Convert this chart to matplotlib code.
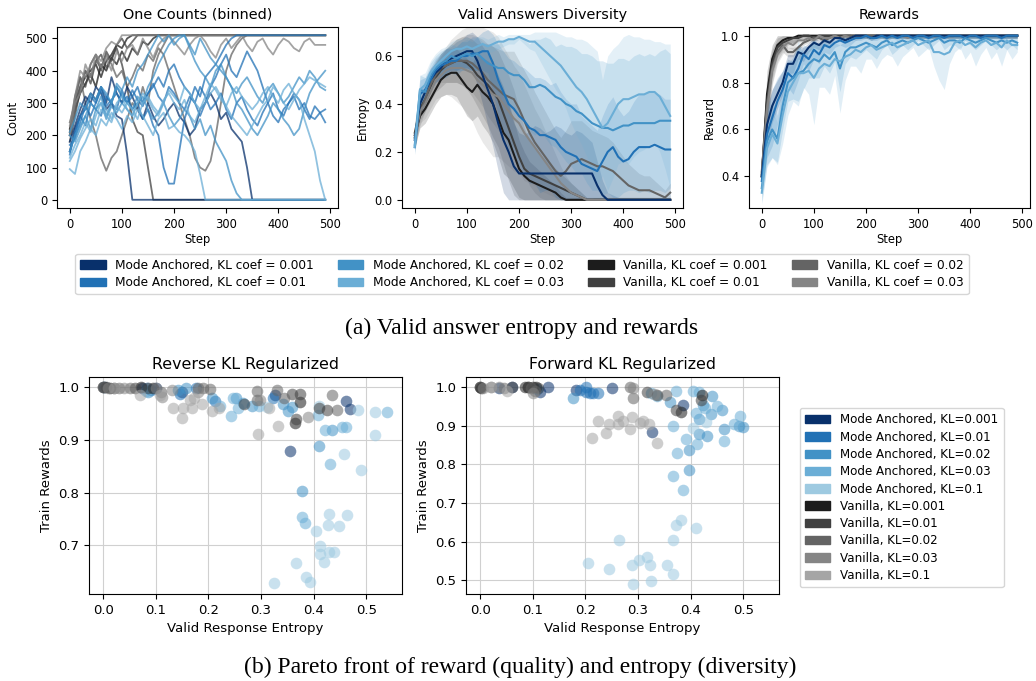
import numpy as np
import matplotlib
matplotlib.use("Agg")
import matplotlib.pyplot as plt
from matplotlib.patches import Patch

# ---------------- data ----------------
steps = list(range(0, 500, 10))

# colours per configuration
col_ma = {"0.001": "#08306b", "0.01": "#2171b5", "0.02": "#4292c6", "0.03": "#6baed6", "0.1": "#9ecae1"}
col_v = {"0.001": "#1c1c1c", "0.01": "#404040", "0.02": "#646464", "0.03": "#858585", "0.1": "#a5a5a5"}

# ---- One Counts (binned): individual runs ----
p1_ma0001_a = [180,230,280,320,300,350,330,280,300,260,
               250,140,0,0,0,0,0,0,0,0,
               0,0,0,0,0,0,0,0,0,0,
               0,0,0,0,0,0,0,0,0,0,
               0,0,0,0,0,0,0,0,0,0]
p1_ma0001_b = [150,220,260,300,330,310,350,300,380,330,
               300,350,320,280,250,300,260,230,250,280,
               300,260,240,200,220,280,300,330,300,250,
               270,220,200,180,100,0,0,0,0,0,
               0,0,0,0,0,0,0,0,0,0]
p1_ma001_a = [140,210,260,280,320,300,340,290,310,330,
              300,320,280,300,250,280,230,200,100,50,
              50,150,250,300,350,320,380,400,420,450,
              480,500,510,510,510,510,510,510,510,510,
              510,510,510,510,510,510,510,510,510,510]
p1_ma001_b = [170,190,240,290,260,300,350,320,300,280,
              340,300,320,350,300,330,360,320,300,350,
              330,300,280,320,300,260,300,350,380,420,
              450,400,380,420,460,430,400,350,300,330,
              280,260,300,320,280,300,260,250,270,280]
p1_ma001_c = [150,200,260,230,300,280,260,320,300,350,
              320,300,340,310,290,330,350,380,350,400,
              420,380,350,330,300,350,320,280,300,330,
              280,250,300,320,280,250,230,270,300,260,
              240,280,300,330,310,280,250,290,270,240]
p1_ma002_a = [200,180,220,260,300,280,320,260,300,350,
              330,300,280,320,300,350,380,420,450,480,
              500,510,510,480,450,500,470,440,420,400,
              380,350,300,280,250,220,200,230,260,300,
              280,250,230,200,220,280,330,360,380,400]
p1_ma002_b = [150,200,230,260,220,280,300,250,290,270,
              300,280,260,300,320,280,250,270,300,260,
              230,250,280,260,220,250,200,230,180,150,
              120,60,20,0,0,0,0,0,0,0,
              0,0,0,0,0,0,0,0,0,0]
p1_ma002_c = [210,250,300,280,330,310,350,330,300,360,
              340,380,350,400,420,450,480,510,490,510,
              480,500,510,470,430,400,380,350,400,420,
              380,350,330,360,380,350,320,300,340,360,
              330,300,320,350,380,360,400,380,350,340]
p1_ma003_a = [95,80,150,180,220,200,250,230,270,250,
              220,260,240,280,260,230,200,250,270,220,
              230,210,200,180,150,80,0,0,0,0,
              0,0,0,0,0,0,0,0,0,0,
              0,0,0,0,0,0,0,0,0,0]
p1_ma003_b = [130,170,200,240,210,260,300,280,250,300,
              320,280,260,300,330,310,280,260,300,340,
              320,300,350,330,300,280,320,360,340,310,
              290,330,350,320,300,280,300,330,350,320,
              300,340,360,330,310,250,200,150,60,0]
p1_ma003_c = [120,150,190,220,250,230,280,260,240,290,
              270,300,280,250,300,320,290,270,310,330,
              300,280,310,260,240,280,300,330,350,320,
              290,260,240,220,200,230,260,290,310,350,
              330,300,280,310,340,360,380,370,360,350]
p1_v0001_a = [200,300,350,380,400,420,380,430,450,480,
              470,500,510,510,510,510,510,510,510,510,
              510,510,510,510,510,510,510,510,510,510,
              510,510,510,510,510,510,510,510,510,510,
              510,510,510,510,510,510,510,510,510,510]
p1_v0001_b = [220,280,330,360,390,350,420,400,440,420,
              460,430,470,450,490,480,500,510,510,510,
              510,510,510,510,510,510,510,510,510,510,
              510,510,510,510,510,510,510,510,510,510,
              510,510,510,510,510,510,510,510,510,510]
p1_v001_a = [180,260,340,400,360,430,450,410,440,470,
             420,350,250,210,200,100,0,0,0,0,
             0,0,0,0,0,0,0,0,0,0,
             0,0,0,0,0,0,0,0,0,0,
             0,0,0,0,0,0,0,0,0,0]
p1_v001_b = [210,320,380,350,420,450,400,460,430,480,
             500,470,490,510,510,510,510,510,510,510,
             510,510,510,510,510,510,510,510,510,510,
             510,510,510,510,510,510,510,510,510,510,
             510,510,510,510,510,510,510,510,510,510]
p1_v002_a = [240,300,380,300,250,200,130,90,130,150,
             200,250,300,280,350,300,400,450,480,510,
             510,510,510,510,510,510,510,510,510,510,
             510,510,510,510,510,510,510,510,510,510,
             510,510,510,510,510,510,510,510,510,510]
p1_v002_b = [200,280,350,400,380,430,410,450,420,380,
             400,350,380,420,400,450,430,470,450,400,
             350,300,250,200,130,100,90,120,200,300,
             400,450,480,500,510,510,510,510,510,510,
             510,510,510,510,510,510,510,510,510,510]
p1_v003_a = [230,320,400,380,420,450,430,470,490,480,
             510,510,510,510,510,510,510,510,510,510,
             510,510,510,510,510,510,510,510,510,510,
             510,510,510,510,510,510,510,510,510,510,
             510,510,510,510,510,510,510,510,510,510]
p1_v003_b = [200,300,330,420,380,450,410,440,400,460,
             430,470,480,450,500,470,440,480,500,510,
             490,470,450,480,500,510,490,460,440,480,
             500,470,490,510,480,460,490,500,470,450,
             480,500,490,470,460,490,500,480,480,480]

# ---- Valid Answers Diversity: mean entropy and spread ----
e_ma0001 = [0.25,0.40,0.45,0.50,0.53,0.55,0.58,0.59,0.60,0.61,
            0.62,0.62,0.58,0.52,0.46,0.40,0.32,0.25,0.20,0.14,
            0.11,0.11,0.11,0.11,0.11,0.11,0.11,0.11,0.11,0.11,
            0.11,0.11,0.11,0.11,0.11,0.06,0.02,0.00,0.00,0.00,
            0.00,0.00,0.00,0.00,0.00,0.00,0.00,0.00,0.00,0.00]
e_ma001 = [0.22,0.44,0.46,0.50,0.54,0.56,0.57,0.58,0.58,0.60,
           0.60,0.61,0.61,0.62,0.62,0.57,0.50,0.45,0.40,0.38,
           0.35,0.33,0.30,0.29,0.27,0.27,0.26,0.25,0.22,0.20,
           0.19,0.18,0.15,0.14,0.13,0.12,0.16,0.20,0.22,0.18,
           0.16,0.17,0.20,0.22,0.22,0.22,0.23,0.22,0.21,0.21]
e_ma002 = [0.23,0.46,0.45,0.52,0.55,0.57,0.58,0.60,0.59,0.60,
           0.61,0.60,0.61,0.59,0.57,0.56,0.55,0.55,0.53,0.52,
           0.52,0.50,0.47,0.47,0.48,0.47,0.45,0.43,0.42,0.40,
           0.39,0.37,0.36,0.34,0.32,0.31,0.30,0.30,0.29,0.30,
           0.31,0.31,0.32,0.32,0.32,0.32,0.32,0.33,0.33,0.33]
e_ma003 = [0.22,0.46,0.48,0.53,0.56,0.58,0.60,0.62,0.63,0.63,
           0.64,0.63,0.64,0.65,0.64,0.65,0.66,0.66,0.67,0.67,
           0.68,0.67,0.66,0.66,0.64,0.62,0.60,0.58,0.56,0.53,
           0.50,0.47,0.45,0.42,0.38,0.34,0.30,0.32,0.36,0.40,
           0.42,0.42,0.43,0.44,0.44,0.45,0.45,0.43,0.39,0.35]
e_v0001 = [0.27,0.35,0.38,0.42,0.46,0.50,0.52,0.53,0.53,0.50,
           0.47,0.45,0.48,0.45,0.43,0.40,0.34,0.28,0.25,0.19,
           0.13,0.10,0.08,0.07,0.06,0.05,0.04,0.03,0.01,0.00,
           0.00,0.00,0.00,0.00,0.00,0.00,0.00,0.00,0.00,0.00,
           0.00,0.00,0.00,0.00,0.00,0.00,0.00,0.00,0.00,0.00]
e_v001 = [0.28,0.38,0.42,0.47,0.51,0.54,0.56,0.57,0.58,0.58,
          0.57,0.55,0.52,0.50,0.48,0.45,0.42,0.36,0.30,0.24,
          0.18,0.13,0.11,0.10,0.09,0.08,0.07,0.06,0.05,0.04,
          0.03,0.02,0.01,0.00,0.00,0.00,0.00,0.00,0.00,0.00,
          0.00,0.00,0.00,0.00,0.00,0.00,0.00,0.00,0.00,0.00]
e_v002 = [0.26,0.36,0.42,0.48,0.52,0.55,0.56,0.57,0.58,0.58,
          0.58,0.57,0.55,0.53,0.50,0.48,0.46,0.44,0.43,0.42,
          0.38,0.33,0.28,0.24,0.21,0.18,0.15,0.12,0.10,0.12,
          0.15,0.16,0.17,0.16,0.15,0.14,0.14,0.13,0.12,0.10,
          0.08,0.06,0.05,0.04,0.04,0.04,0.03,0.02,0.01,0.03]
e_v003 = [0.26,0.37,0.40,0.45,0.50,0.52,0.54,0.55,0.55,0.55,
          0.54,0.53,0.50,0.48,0.46,0.44,0.43,0.40,0.37,0.34,
          0.32,0.28,0.25,0.22,0.19,0.16,0.13,0.10,0.07,0.05,
          0.03,0.02,0.01,0.00,0.00,0.00,0.00,0.00,0.00,0.00,
          0.00,0.00,0.00,0.00,0.00,0.00,0.00,0.00,0.00,0.00]

sp_e_ma0001 = [0.03,0.05,0.05,0.05,0.04,0.05,0.05,0.05,0.06,0.06,
               0.07,0.08,0.10,0.12,0.15,0.18,0.20,0.22,0.20,0.18,
               0.17,0.16,0.18,0.20,0.19,0.17,0.18,0.20,0.19,0.17,
               0.16,0.18,0.17,0.15,0.13,0.10,0.06,0.03,0.02,0.01,
               0.01,0.01,0.01,0.01,0.01,0.01,0.01,0.01,0.01,0.01]
sp_e_ma001 = [0.03,0.06,0.05,0.05,0.05,0.05,0.06,0.05,0.06,0.06,
              0.06,0.07,0.07,0.08,0.09,0.12,0.15,0.17,0.19,0.20,
              0.21,0.22,0.23,0.22,0.24,0.23,0.22,0.24,0.23,0.22,
              0.21,0.22,0.20,0.19,0.18,0.17,0.19,0.20,0.21,0.20,
              0.19,0.20,0.21,0.22,0.22,0.23,0.22,0.22,0.21,0.21]
sp_e_ma002 = [0.03,0.06,0.06,0.05,0.05,0.05,0.05,0.05,0.05,0.06,
              0.06,0.06,0.07,0.07,0.08,0.09,0.10,0.12,0.14,0.15,
              0.16,0.17,0.18,0.20,0.19,0.21,0.22,0.21,0.23,0.24,
              0.25,0.26,0.25,0.27,0.28,0.27,0.28,0.27,0.28,0.29,
              0.28,0.27,0.28,0.29,0.28,0.29,0.28,0.29,0.30,0.28]
sp_e_ma003 = [0.03,0.06,0.05,0.05,0.05,0.05,0.04,0.04,0.04,0.04,
              0.04,0.04,0.04,0.03,0.03,0.03,0.03,0.02,0.02,0.02,
              0.01,0.02,0.03,0.04,0.06,0.08,0.10,0.12,0.13,0.15,
              0.18,0.20,0.22,0.24,0.26,0.28,0.20,0.28,0.27,0.25,
              0.26,0.27,0.25,0.24,0.23,0.22,0.21,0.23,0.26,0.30]
sp_e_v0001 = [0.05,0.05,0.06,0.06,0.06,0.07,0.08,0.09,0.10,0.11,
              0.12,0.12,0.13,0.14,0.15,0.16,0.16,0.17,0.16,0.14,
              0.12,0.10,0.08,0.07,0.06,0.05,0.04,0.03,0.02,0.01,
              0.01,0.01,0.01,0.01,0.01,0.01,0.01,0.01,0.01,0.01,
              0.01,0.01,0.01,0.01,0.01,0.01,0.01,0.01,0.01,0.01]
sp_e_v001 = [0.05,0.05,0.05,0.06,0.06,0.07,0.07,0.08,0.09,0.10,
             0.11,0.12,0.13,0.15,0.17,0.19,0.20,0.21,0.22,0.22,
             0.20,0.17,0.14,0.12,0.10,0.09,0.08,0.07,0.06,0.05,
             0.04,0.03,0.02,0.01,0.01,0.01,0.01,0.01,0.01,0.01,
             0.01,0.01,0.01,0.01,0.01,0.01,0.01,0.01,0.01,0.01]
sp_e_v002 = [0.05,0.05,0.05,0.06,0.06,0.06,0.07,0.08,0.09,0.10,
             0.11,0.12,0.13,0.14,0.15,0.16,0.17,0.18,0.19,0.20,
             0.20,0.21,0.22,0.21,0.20,0.19,0.18,0.17,0.16,0.17,
             0.18,0.17,0.16,0.15,0.14,0.14,0.13,0.13,0.12,0.11,
             0.10,0.09,0.08,0.07,0.06,0.06,0.05,0.04,0.03,0.04]
sp_e_v003 = [0.05,0.05,0.06,0.07,0.08,0.09,0.10,0.12,0.14,0.16,
             0.18,0.20,0.22,0.24,0.25,0.26,0.25,0.24,0.23,0.22,
             0.21,0.20,0.18,0.16,0.15,0.13,0.11,0.09,0.07,0.05,
             0.04,0.03,0.02,0.01,0.01,0.01,0.01,0.01,0.01,0.01,
             0.01,0.01,0.01,0.01,0.01,0.01,0.01,0.01,0.01,0.01]

# ---- Rewards: mean reward and spread ----
r_ma0001 = [0.40,0.62,0.70,0.75,0.80,0.88,0.88,0.93,0.92,0.95,
            0.97,0.96,0.98,0.97,0.99,0.99,0.98,0.99,1.00,1.00,
            1.00,0.99,1.00,1.00,1.00,1.00,1.00,1.00,1.00,1.00,
            1.00,1.00,1.00,1.00,1.00,1.00,1.00,1.00,1.00,1.00,
            1.00,1.00,1.00,1.00,1.00,1.00,1.00,1.00,1.00,1.00]
r_ma001 = [0.38,0.58,0.65,0.72,0.77,0.84,0.82,0.86,0.92,0.90,
           0.94,0.92,0.96,0.95,0.97,0.98,0.97,0.98,0.99,0.99,
           1.00,0.99,0.99,1.00,0.99,1.00,0.99,1.00,1.00,0.99,
           1.00,1.00,0.99,1.00,1.00,0.99,1.00,1.00,1.00,0.99,
           1.00,1.00,0.99,1.00,1.00,1.00,0.99,1.00,1.00,1.00]
r_ma002 = [0.35,0.55,0.60,0.56,0.70,0.80,0.82,0.84,0.85,0.88,
           0.90,0.89,0.92,0.90,0.93,0.86,0.93,0.95,0.95,0.96,
           0.97,0.96,0.95,0.97,0.98,0.96,0.97,0.98,0.97,0.98,
           0.99,0.98,0.97,0.98,0.99,0.97,0.98,0.98,0.97,0.99,
           0.98,0.97,0.98,0.99,0.98,0.97,0.98,0.97,0.98,0.97]
r_ma003 = [0.33,0.52,0.58,0.54,0.66,0.76,0.80,0.84,0.84,0.85,
           0.82,0.86,0.88,0.87,0.90,0.89,0.91,0.92,0.94,0.93,
           0.95,0.96,0.94,0.95,0.96,0.97,0.95,0.96,0.97,0.98,
           0.96,0.97,0.98,0.93,0.93,0.92,0.93,0.97,0.98,0.96,
           0.97,0.95,0.97,0.98,0.96,0.97,0.95,0.98,0.96,0.96]
r_v0001 = [0.40,0.75,0.90,0.96,0.98,0.99,0.99,1.00,1.00,1.00,
           1.00,1.00,1.00,1.00,1.00,1.00,1.00,1.00,1.00,1.00,
           1.00,1.00,1.00,1.00,1.00,1.00,1.00,1.00,1.00,1.00,
           1.00,1.00,1.00,1.00,1.00,1.00,1.00,1.00,1.00,1.00,
           1.00,1.00,1.00,1.00,1.00,1.00,1.00,1.00,1.00,1.00]
r_v001 = [0.40,0.72,0.88,0.95,0.97,0.98,0.99,0.99,1.00,1.00,
          0.99,1.00,1.00,1.00,1.00,1.00,1.00,1.00,1.00,1.00,
          1.00,1.00,1.00,1.00,1.00,1.00,1.00,1.00,1.00,1.00,
          1.00,1.00,1.00,1.00,1.00,1.00,1.00,1.00,1.00,1.00,
          1.00,1.00,1.00,1.00,1.00,1.00,1.00,1.00,1.00,1.00]
r_v002 = [0.42,0.70,0.86,0.93,0.96,0.93,0.93,0.95,0.97,0.98,
          0.99,0.99,0.98,0.99,1.00,0.99,1.00,1.00,0.99,1.00,
          1.00,1.00,1.00,1.00,1.00,1.00,1.00,1.00,1.00,1.00,
          1.00,1.00,1.00,1.00,1.00,1.00,1.00,1.00,1.00,1.00,
          1.00,1.00,1.00,1.00,1.00,1.00,1.00,1.00,1.00,1.00]
r_v003 = [0.41,0.68,0.85,0.92,0.95,0.97,0.96,0.98,0.98,0.99,
          0.98,1.00,0.99,0.99,1.00,0.99,1.00,0.99,1.00,1.00,
          1.00,0.99,1.00,1.00,0.99,1.00,1.00,1.00,0.99,1.00,
          1.00,1.00,1.00,1.00,1.00,1.00,1.00,1.00,1.00,1.00,
          1.00,1.00,1.00,1.00,1.00,1.00,1.00,1.00,1.00,1.00]

sp_r_ma0001 = [0.05,0.08,0.07,0.06,0.05,0.04,0.04,0.03,0.03,0.02,
               0.02,0.02,0.02,0.01,0.01,0.01,0.01,0.01,0.01,0.01,
               0.01,0.01,0.01,0.01,0.01,0.01,0.01,0.01,0.01,0.01,
               0.01,0.01,0.01,0.01,0.01,0.01,0.01,0.01,0.01,0.01,
               0.01,0.01,0.01,0.01,0.01,0.01,0.01,0.01,0.01,0.01]
sp_r_ma001 = [0.06,0.10,0.12,0.10,0.08,0.06,0.07,0.05,0.04,0.05,
              0.04,0.04,0.03,0.03,0.02,0.02,0.02,0.02,0.01,0.01,
              0.01,0.01,0.01,0.01,0.01,0.01,0.01,0.01,0.01,0.01,
              0.01,0.01,0.01,0.01,0.01,0.01,0.01,0.01,0.01,0.01,
              0.01,0.01,0.01,0.01,0.01,0.01,0.01,0.01,0.01,0.01]
sp_r_ma002 = [0.06,0.10,0.12,0.10,0.10,0.08,0.09,0.12,0.08,0.06,
              0.08,0.07,0.05,0.06,0.04,0.10,0.05,0.04,0.05,0.04,
              0.03,0.04,0.05,0.03,0.02,0.04,0.03,0.02,0.03,0.02,
              0.01,0.02,0.03,0.02,0.01,0.03,0.02,0.02,0.03,0.01,
              0.02,0.03,0.02,0.01,0.02,0.03,0.02,0.03,0.02,0.03]
sp_r_ma003 = [0.05,0.08,0.10,0.09,0.12,0.10,0.08,0.14,0.06,0.10,
              0.20,0.08,0.10,0.12,0.07,0.22,0.10,0.05,0.07,0.09,
              0.05,0.06,0.08,0.05,0.04,0.06,0.08,0.05,0.04,0.03,
              0.05,0.04,0.03,0.06,0.12,0.15,0.05,0.04,0.03,0.06,
              0.04,0.08,0.05,0.03,0.06,0.04,0.08,0.04,0.06,0.03]
sp_r_v = [0.04,0.10,0.06,0.04,0.03,0.02,0.02,0.01,0.01,0.01,
          0.01,0.01,0.01,0.01,0.01,0.01,0.01,0.01,0.01,0.01,
          0.01,0.01,0.01,0.01,0.01,0.01,0.01,0.01,0.01,0.01,
          0.01,0.01,0.01,0.01,0.01,0.01,0.01,0.01,0.01,0.01,
          0.01,0.01,0.01,0.01,0.01,0.01,0.01,0.01,0.01,0.01]

# ---- Pareto scatter: Reverse KL ----
rev_ma0001_x = [0.073, 0.101, 0.356, 0.461, 0.470, 0.150, 0.326]
rev_ma0001_y = [0.998, 0.999, 0.879, 0.974, 0.959, 0.990, 0.985]
rev_ma001_x = [0.084, 0.146, 0.177, 0.212, 0.323, 0.002, 0.090]
rev_ma001_y = [0.999, 0.987, 0.998, 0.973, 0.979, 1.000, 0.995]
rev_ma002_x = [0.142, 0.158, 0.207, 0.266, 0.253, 0.282, 0.342, 0.358, 0.351, 0.378, 0.410, 0.435, 0.085]
rev_ma002_y = [0.995, 0.998, 0.979, 0.970, 0.979, 0.965, 0.967, 0.963, 0.954, 0.803, 0.889, 0.918, 0.990]
rev_ma003_x = [0.082, 0.222, 0.246, 0.256, 0.242, 0.297, 0.409, 0.421, 0.454, 0.462, 0.432, 0.378, 0.384, 0.539]
rev_ma003_y = [0.992, 0.964, 0.979, 0.960, 0.946, 0.964, 0.947, 0.918, 0.924, 0.924, 0.855, 0.754, 0.743, 0.952]
rev_ma01_x = [0.325, 0.367, 0.386, 0.394, 0.404, 0.413, 0.413, 0.420, 0.430, 0.438, 0.428, 0.430,
              0.449, 0.464, 0.516, 0.491, 0.457, 0.517, 0.484, 0.410, 0.312]
rev_ma01_y = [0.629, 0.667, 0.641, 0.630, 0.728, 0.698, 0.684, 0.668, 0.688, 0.688, 0.738, 0.759,
              0.737, 0.757, 0.909, 0.842, 0.874, 0.952, 0.956, 0.964, 0.962]
rev_v0001_x = [0.000, 0.005, 0.012, 0.072, 0.095, 0.365, 0.375]
rev_v0001_y = [1.000, 1.000, 0.999, 1.000, 0.999, 0.932, 0.972]
rev_v001_x = [0.002, 0.020, 0.060, 0.085, 0.268, 0.359, 0.367, 0.411, 0.426, 0.375]
rev_v001_y = [1.000, 0.998, 0.999, 0.998, 0.968, 0.987, 0.940, 0.960, 0.957, 0.987]
rev_v002_x = [0.000, 0.030, 0.050, 0.110, 0.180, 0.190, 0.203, 0.293, 0.330, 0.344, 0.444, 0.435, 0.293]
rev_v002_y = [1.000, 0.999, 0.998, 0.990, 0.998, 0.998, 0.996, 0.992, 0.995, 0.979, 0.957, 0.984, 0.976]
rev_v003_x = [0.010, 0.040, 0.100, 0.111, 0.130, 0.389, 0.298, 0.180]
rev_v003_y = [0.999, 0.998, 0.999, 0.982, 0.995, 0.943, 0.975, 0.990]
rev_v01_x = [0.070, 0.108, 0.133, 0.149, 0.152, 0.165, 0.168, 0.173, 0.187, 0.206, 0.294, 0.332, 0.316, 0.020, 0.220]
rev_v01_y = [0.985, 0.985, 0.960, 0.941, 0.960, 0.976, 0.960, 0.979, 0.967, 0.954, 0.911, 0.926, 0.960, 0.998, 0.960]

# ---- Pareto scatter: Forward KL ----
fwd_ma0001_x = [0.035, 0.113, 0.129, 0.183, 0.251, 0.327, 0.386, 0.060]
fwd_ma0001_y = [0.997, 0.986, 1.000, 0.993, 0.997, 0.884, 0.952, 1.000]
fwd_ma001_x = [0.189, 0.202, 0.208, 0.224, 0.202, 0.215, 0.108]
fwd_ma001_y = [0.991, 0.987, 0.984, 0.983, 1.000, 0.985, 0.995]
fwd_ma002_x = [0.177, 0.361, 0.397, 0.397, 0.416, 0.432, 0.463, 0.492, 0.500, 0.416, 0.439, 0.460, 0.440, 0.423]
fwd_ma002_y = [0.970, 0.960, 0.786, 0.838, 0.877, 0.872, 0.890, 0.898, 0.896, 0.916, 0.930, 0.941, 0.976, 0.953]
fwd_ma003_x = [0.366, 0.367, 0.372, 0.375, 0.391, 0.410, 0.413, 0.427, 0.451, 0.463, 0.482, 0.494,
               0.337, 0.325, 0.404, 0.385, 0.415]
fwd_ma003_y = [0.769, 0.898, 0.989, 0.829, 0.864, 0.933, 0.851, 0.946, 0.950, 0.859, 0.903, 0.924,
               0.976, 0.984, 0.989, 0.733, 0.986]
fwd_ma01_x = [0.204, 0.245, 0.263, 0.289, 0.290, 0.301, 0.317, 0.323, 0.325, 0.356, 0.366, 0.366,
              0.372, 0.381, 0.411, 0.405, 0.430]
fwd_ma01_y = [0.545, 0.530, 0.605, 0.540, 0.490, 0.553, 0.560, 0.539, 0.497, 0.539, 0.603, 0.516,
              0.644, 0.657, 0.635, 0.894, 0.910]
fwd_v0001_x = [0.000, 0.002, 0.085, 0.091, 0.107, 0.100, 0.381, 0.421]
fwd_v0001_y = [1.000, 0.998, 1.000, 1.000, 1.000, 0.999, 0.934, 0.980]
fwd_v001_x = [0.000, 0.060, 0.090, 0.110, 0.317, 0.337, 0.372, 0.419]
fwd_v001_y = [1.000, 1.000, 0.999, 0.998, 0.986, 0.980, 0.941, 0.967]
fwd_v002_x = [0.021, 0.046, 0.096, 0.284, 0.290, 0.353, 0.105]
fwd_v002_y = [1.000, 0.997, 0.997, 1.000, 0.970, 0.978, 0.990]
fwd_v003_x = [0.005, 0.035, 0.100, 0.290, 0.330]
fwd_v003_y = [0.998, 0.999, 0.985, 0.998, 0.982]
fwd_v01_x = [0.213, 0.224, 0.240, 0.245, 0.262, 0.262, 0.271, 0.284, 0.289, 0.303, 0.309, 0.320, 0.337, 0.020, 0.050]
fwd_v01_y = [0.868, 0.911, 0.881, 0.903, 0.924, 0.903, 0.913, 0.890, 0.922, 0.907, 0.911, 0.903, 0.855, 1.000, 0.990]

# ---------------- figure ----------------
plt.rcParams['font.family'] = ['DejaVu Sans']
fig = plt.figure(figsize=(10.36, 6.81), dpi=100)
W, H = 1036.0, 681.0

def ax_at(l, t, r, b):
    return fig.add_axes([l / W, 1 - b / H, (r - l) / W, (b - t) / H])

TS, LS, TT = 8.3, 8.3, 10.4

ax1 = ax_at(57, 27, 338, 208)
ax2 = ax_at(402, 27, 683, 208)
ax3 = ax_at(749, 27, 1030, 208)

# panel 1
runs_v = [(p1_v0001_a, "0.001"), (p1_v0001_b, "0.001"), (p1_v001_a, "0.01"), (p1_v001_b, "0.01"),
          (p1_v002_a, "0.02"), (p1_v002_b, "0.02"), (p1_v003_a, "0.03"), (p1_v003_b, "0.03")]
runs_ma = [(p1_ma0001_a, "0.001"), (p1_ma0001_b, "0.001"), (p1_ma001_a, "0.01"), (p1_ma001_b, "0.01"),
           (p1_ma001_c, "0.01"), (p1_ma002_a, "0.02"), (p1_ma002_b, "0.02"), (p1_ma002_c, "0.02"),
           (p1_ma003_a, "0.03"), (p1_ma003_b, "0.03"), (p1_ma003_c, "0.03")]
for vals, k in runs_v:
    ax1.plot(steps, vals, color=col_v[k], alpha=0.75, lw=1.3)
for vals, k in runs_ma:
    ax1.plot(steps, vals, color=col_ma[k], alpha=0.75, lw=1.3)
ax1.set_title("One Counts (binned)", fontsize=TT)
ax1.set_ylabel("Count", fontsize=LS)
ax1.set_yticks([0, 100, 200, 300, 400, 500])

# panel 2
ent = [(e_v0001, sp_e_v0001, col_v["0.001"]), (e_v001, sp_e_v001, col_v["0.01"]),
       (e_v002, sp_e_v002, col_v["0.02"]), (e_v003, sp_e_v003, col_v["0.03"]),
       (e_ma0001, sp_e_ma0001, col_ma["0.001"]), (e_ma001, sp_e_ma001, col_ma["0.01"]),
       (e_ma002, sp_e_ma002, col_ma["0.02"]), (e_ma003, sp_e_ma003, col_ma["0.03"])]
for m, s, c in ent:
    m = np.array(m); s = np.array(s)
    ax2.fill_between(steps, np.clip(m - s, 0, None), m + s, color=c, alpha=0.18, lw=0)
for m, s, c in ent:
    ax2.plot(steps, m, color=c, lw=1.5)
ax2.set_ylim(-0.034, 0.721)
ax2.set_title("Valid Answers Diversity", fontsize=TT)
ax2.set_ylabel("Entropy", fontsize=LS)
ax2.set_yticks([0.0, 0.2, 0.4, 0.6])

# panel 3
rew = [(r_v0001, sp_r_v, col_v["0.001"]), (r_v001, sp_r_v, col_v["0.01"]),
       (r_v002, sp_r_v, col_v["0.02"]), (r_v003, sp_r_v, col_v["0.03"]),
       (r_ma0001, sp_r_ma0001, col_ma["0.001"]), (r_ma001, sp_r_ma001, col_ma["0.01"]),
       (r_ma002, sp_r_ma002, col_ma["0.02"]), (r_ma003, sp_r_ma003, col_ma["0.03"])]
for m, s, c in rew:
    m = np.array(m); s = np.array(s)
    ax3.fill_between(steps, m - s, np.minimum(m + s, 1.0), color=c, alpha=0.2, lw=0)
for m, s, c in rew:
    ax3.plot(steps, m, color=c, lw=1.5)
ax3.set_ylim(0.265, 1.037)
ax3.set_title("Rewards", fontsize=TT)
ax3.set_ylabel("Reward", fontsize=LS)
ax3.set_yticks([0.4, 0.6, 0.8, 1.0])

for ax in (ax1, ax2, ax3):
    ax.set_xlabel("Step", fontsize=LS, labelpad=2)
    ax.set_xticks([0, 100, 200, 300, 400, 500])
    ax.tick_params(labelsize=TS)

# top legend
top_handles = [Patch(color=col_ma["0.001"]), Patch(color=col_ma["0.01"]),
               Patch(color=col_ma["0.02"]), Patch(color=col_ma["0.03"]),
               Patch(color=col_v["0.001"]), Patch(color=col_v["0.01"]),
               Patch(color=col_v["0.02"]), Patch(color=col_v["0.03"])]
top_labels = ["Mode Anchored, KL coef = 0.001", "Mode Anchored, KL coef = 0.01",
              "Mode Anchored, KL coef = 0.02", "Mode Anchored, KL coef = 0.03",
              "Vanilla, KL coef = 0.001", "Vanilla, KL coef = 0.01",
              "Vanilla, KL coef = 0.02", "Vanilla, KL coef = 0.03"]
fig.legend(top_handles, top_labels, loc="upper center", bbox_to_anchor=(522 / W, 1 - 248 / H),
           ncol=4, fontsize=8.7, columnspacing=2.0, handlelength=2.1, handletextpad=0.8,
           labelspacing=0.35, borderpad=0.4, frameon=True)

fig.text(522 / W, 1 - 328 / H, "(a) Valid answer entropy and rewards", ha="center", va="center",
         fontsize=17, family="Liberation Serif")

# bottom scatter plots
ax4 = ax_at(89, 377, 402, 594)
ax5 = ax_at(466, 377, 779, 594)
S, A = 70, 0.55
rev_sets = [(rev_ma0001_x, rev_ma0001_y, col_ma["0.001"]), (rev_ma001_x, rev_ma001_y, col_ma["0.01"]),
            (rev_ma002_x, rev_ma002_y, col_ma["0.02"]), (rev_ma003_x, rev_ma003_y, col_ma["0.03"]),
            (rev_ma01_x, rev_ma01_y, col_ma["0.1"]),
            (rev_v0001_x, rev_v0001_y, col_v["0.001"]), (rev_v001_x, rev_v001_y, col_v["0.01"]),
            (rev_v002_x, rev_v002_y, col_v["0.02"]), (rev_v003_x, rev_v003_y, col_v["0.03"]),
            (rev_v01_x, rev_v01_y, col_v["0.1"])]
fwd_sets = [(fwd_ma0001_x, fwd_ma0001_y, col_ma["0.001"]), (fwd_ma001_x, fwd_ma001_y, col_ma["0.01"]),
            (fwd_ma002_x, fwd_ma002_y, col_ma["0.02"]), (fwd_ma003_x, fwd_ma003_y, col_ma["0.03"]),
            (fwd_ma01_x, fwd_ma01_y, col_ma["0.1"]),
            (fwd_v0001_x, fwd_v0001_y, col_v["0.001"]), (fwd_v001_x, fwd_v001_y, col_v["0.01"]),
            (fwd_v002_x, fwd_v002_y, col_v["0.02"]), (fwd_v003_x, fwd_v003_y, col_v["0.03"]),
            (fwd_v01_x, fwd_v01_y, col_v["0.1"])]
for ax, sets, title, yt in ((ax4, rev_sets, "Reverse KL Regularized", [0.7, 0.8, 0.9, 1.0]),
                            (ax5, fwd_sets, "Forward KL Regularized", [0.5, 0.6, 0.7, 0.8, 0.9, 1.0])):
    for x, y, c in sets:
        ax.scatter(x, y, s=S, color=c, alpha=A, linewidths=0, zorder=3)
    ax.grid(True, color="#d0d0d0", lw=0.8, zorder=0)
    ax.set_axisbelow(True)
    ax.set_xlim(-0.027, 0.568)
    ax.set_xticks([0.0, 0.1, 0.2, 0.3, 0.4, 0.5])
    ax.set_yticks(yt)
    ax.set_title(title, fontsize=11.4)
    ax.set_xlabel("Valid Response Entropy", fontsize=9.5)
    ax.set_ylabel("Train Rewards", fontsize=9.5)
    ax.tick_params(labelsize=9.5)
ax4.set_ylim(0.608, 1.019)
ax5.set_ylim(0.4645, 1.0255)

bot_handles = [Patch(color=col_ma[k]) for k in ["0.001", "0.01", "0.02", "0.03", "0.1"]] + \
              [Patch(color=col_v[k]) for k in ["0.001", "0.01", "0.02", "0.03", "0.1"]]
bot_labels = ["Mode Anchored, KL=0.001", "Mode Anchored, KL=0.01", "Mode Anchored, KL=0.02",
              "Mode Anchored, KL=0.03", "Mode Anchored, KL=0.1",
              "Vanilla, KL=0.001", "Vanilla, KL=0.01", "Vanilla, KL=0.02", "Vanilla, KL=0.03", "Vanilla, KL=0.1"]
fig.legend(bot_handles, bot_labels, loc="upper left", bbox_to_anchor=(794 / W, 1 - 402 / H),
           fontsize=8.6, handlelength=2.1, handletextpad=0.8, labelspacing=0.36, borderpad=0.45,
           frameon=True)

fig.text(520 / W, 1 - 667 / H, "(b) Pareto front of reward (quality) and entropy (diversity)",
         ha="center", va="center", fontsize=17, family="Liberation Serif")

fig.savefig("out.png", dpi=100)
